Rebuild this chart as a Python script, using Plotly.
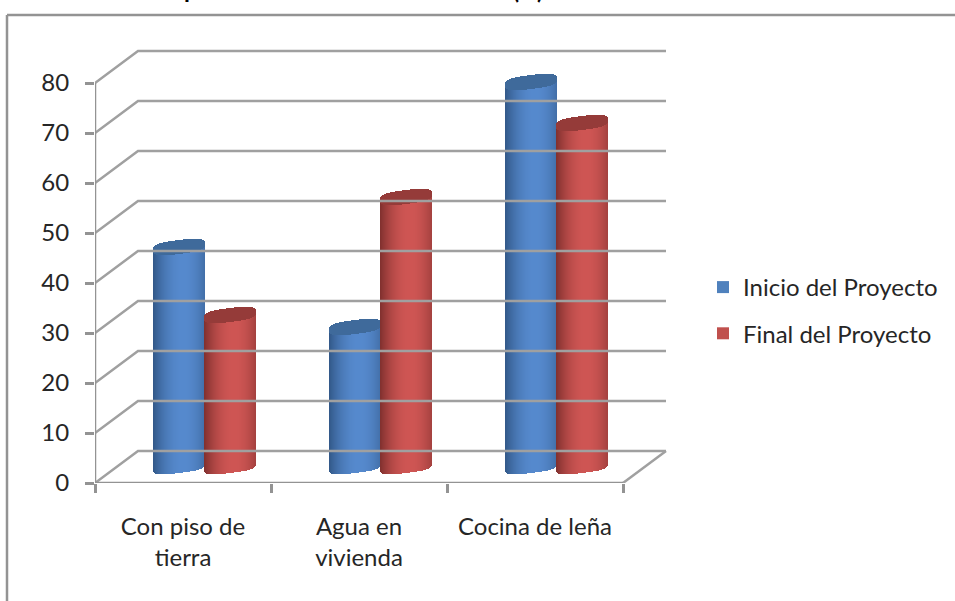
import numpy as np
import plotly.graph_objects as go

categories = ["Con piso de<br>tierra", "Agua en<br>vivienda", "Cocina de leña"]
inicio = [44, 28, 77]
final = [30.4, 54, 68.8]
y_ticks = [0, 10, 20, 30, 40, 50, 60, 70, 80]
series_names = ["Inicio del Proyecto", "Final del Proyecto"]

W, H = 955, 601
L, T, R, B = 95, 48, 670, 483   # plot box in page pixels
PX_CAT, PX_VAL = 176.0, 5.0
DX, DY = 43 / PX_CAT, 32 / PX_VAL   # 3D depth in axis units
GRID = "#a0a0a0"
AXIS = "#939393"
TEXT = "#262626"
FONT = "Lato"

HALF = 26 / PX_CAT
SHIFT = 25.5 / PX_CAT
TILT = 3 / PX_VAL
MINOR = 7 / PX_VAL
BOTTOM_MINOR = 6 / PX_VAL
N = 52


def mix(dark, light, t):
    return "rgb(%d,%d,%d)" % tuple(d + (l - d) * t for d, l in zip(dark, light))


def cylinder(values, side, dark, light, cap, name):
    u = (np.arange(N) + 0.5) / N * 2 - 1
    root = (1 - np.abs(u) ** 3) ** (1 / 3)
    shade = 1 - np.minimum(1, np.abs(u - 0.15) / 1.15) ** 2.0
    xs, base, height, colours, cx, cb, ch = [], [], [], [], [], [], []
    for i, v in enumerate(values):
        x = i + 0.5 + DX / 2 + side * SHIFT + HALF * u
        mid = DY / 2 + TILT * u
        low = mid - BOTTOM_MINOR * root
        topc = v + mid
        xs += list(x)
        base += list(low)
        height += list(topc - MINOR * root - low)
        colours += [mix(dark, light, t) for t in shade]
        cx += list(x)
        cb += list(topc - MINOR * root)
        ch += list(2 * MINOR * root)
    w = 2 * HALF / N
    return [
        go.Bar(x=xs, y=height, base=base, width=w, marker=dict(color=colours, line=dict(width=0)),
               showlegend=False, hoverinfo="skip", name=name),
        go.Bar(x=cx, y=ch, base=cb, width=w, marker=dict(color=cap, line=dict(width=0)),
               showlegend=False, hoverinfo="skip", name=name + " tapa"),
    ]


fig = go.Figure()

# back wall gridlines + side diagonals
gx, gy = [], []
for v in y_ticks:
    gx += [0, DX, 3 + DX, None]
    gy += [v, v + DY, v + DY, None]
gx += [3, 3 + DX, None]
gy += [0, DY, None]
fig.add_trace(go.Scatter(x=gx, y=gy, mode="lines", line=dict(color=GRID, width=2.5),
                         showlegend=False, hoverinfo="skip", cliponaxis=False))

for tr in cylinder(inicio, -1, (50, 88, 136), (86, 138, 206), "#3f6a9b", series_names[0]):
    fig.add_trace(tr)
for tr in cylinder(final, 1, (128, 48, 46), (207, 86, 84), "#953b39", series_names[1]):
    fig.add_trace(tr)

# axis lines
fig.add_trace(go.Scatter(x=[0, 0, None, 0, 3], y=[0, y_ticks[-1], None, 0, 0], mode="lines",
                         line=dict(color=AXIS, width=2.5), showlegend=False,
                         hoverinfo="skip", cliponaxis=False))

# legend entries
fig.add_trace(go.Scatter(x=[None], y=[None], mode="markers", name=series_names[0], legendgroup="a",
                         marker=dict(symbol="square", size=14, color="#4f81bd")))
fig.add_trace(go.Scatter(x=[None], y=[None], mode="markers", name=series_names[1], legendgroup="b",
                         marker=dict(symbol="square", size=14, color="#c0504d")))

px = lambda p: (p - L) / (R - L)
py = lambda p: (B - p) / (B - T)

fig.update_layout(
    width=W, height=H,
    margin=dict(l=L, r=W - R, t=T, b=H - B, autoexpand=False),
    paper_bgcolor="white", plot_bgcolor="white",
    barmode="overlay", bargap=0,
    font=dict(family=FONT, size=24, color=TEXT),
    showlegend=True,
    legend=dict(x=px(703), y=py(265), xanchor="left", yanchor="top", tracegroupgap=12,
                font=dict(size=24, color=TEXT), bgcolor="rgba(0,0,0,0)", itemsizing="constant"),
    xaxis=dict(range=[0, (R - L) / PX_CAT], tickmode="array",
               tickvals=[i + 0.5 for i in range(3)], ticktext=categories,
               ticks="", showgrid=False, zeroline=False, showline=False, tickangle=0,
               ticklabelstandoff=27,
               minor=dict(tickmode="array", tickvals=[0, 1, 2, 3], ticks="outside", ticklen=9,
                          tickwidth=2.5, tickcolor=AXIS, showgrid=False)),
    yaxis=dict(range=[0, (B - T) / PX_VAL], tickmode="array", tickvals=y_ticks,
               ticks="outside", ticklen=9, tickwidth=2.5, tickcolor=AXIS, showgrid=False,
               zeroline=False, showline=False, ticklabelstandoff=11),
    shapes=[
        dict(type="line", xref="paper", yref="paper", x0=px(7), x1=px(7), y0=py(15), y1=py(H + 5),
             line=dict(color=AXIS, width=2.5)),
        dict(type="line", xref="paper", yref="paper", x0=px(7), x1=px(W + 5), y0=py(15), y1=py(15),
             line=dict(color=AXIS, width=2.5)),
    ],
    annotations=[
        dict(xref="paper", yref="paper", x=px(191), y=py(5), text="<b>p</b>", showarrow=False,
             xanchor="center", yanchor="bottom", font=dict(size=24, color="#000000", family=FONT)),
        dict(xref="paper", yref="paper", x=px(528), y=py(6), text="<b>(%)</b>", showarrow=False,
             xanchor="center", yanchor="bottom", font=dict(size=22, color="#000000", family=FONT)),
    ],
)

fig.write_html("out.html", post_script="document.body.style.margin='0';",
               config=dict(displayModeBar=False))
